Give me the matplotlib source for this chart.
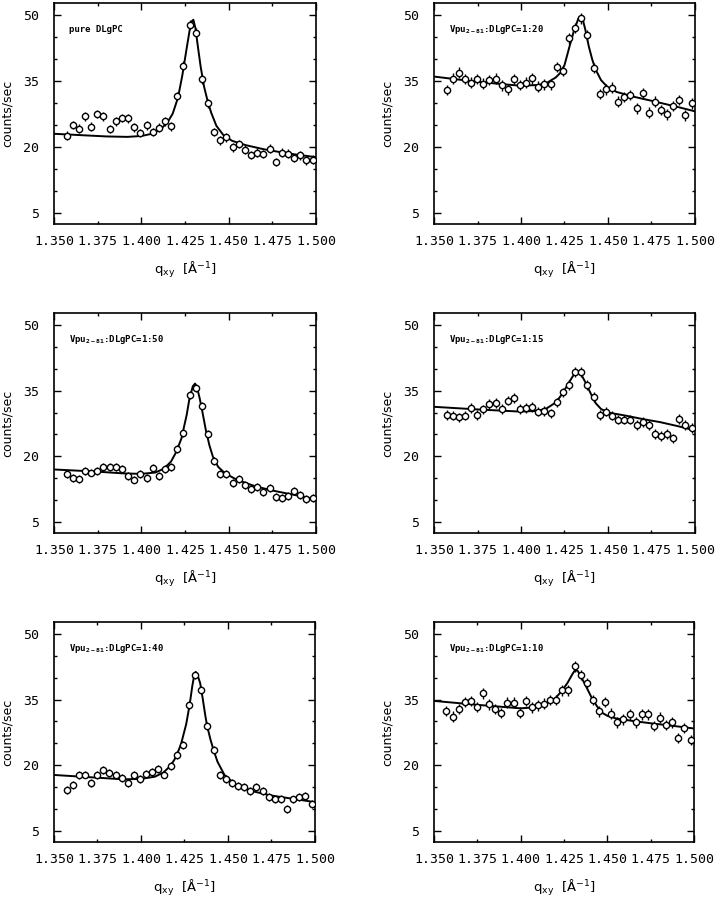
import matplotlib
matplotlib.use('Agg')
import matplotlib.pyplot as plt
from matplotlib.ticker import MultipleLocator, FormatStrFormatter

# ---------------- data ----------------
q = [1.3572, 1.3607, 1.3642, 1.3678, 1.3713, 1.3748, 1.3783, 1.3818, 1.3854, 1.3889,
     1.3924, 1.3959, 1.3995, 1.4030, 1.4065, 1.4100, 1.4135, 1.4171, 1.4206, 1.4241,
     1.4276, 1.4311, 1.4347, 1.4382, 1.4417, 1.4452, 1.4487, 1.4523, 1.4558, 1.4593,
     1.4628, 1.4664, 1.4699, 1.4734, 1.4769, 1.4804, 1.4840, 1.4875, 1.4910, 1.4945,
     1.4981]

panel_labels = ["pure DLgPC",
                r"Vpu$_{\mathregular{2-81}}$:DLgPC=1:20",
                r"Vpu$_{\mathregular{2-81}}$:DLgPC=1:50",
                r"Vpu$_{\mathregular{2-81}}$:DLgPC=1:15",
                r"Vpu$_{\mathregular{2-81}}$:DLgPC=1:40",
                r"Vpu$_{\mathregular{2-81}}$:DLgPC=1:10"]

y1 = [22.6, 25.0, 24.2, 27.0, 24.6, 27.5, 27.0, 24.1, 25.8, 26.6,
      26.5, 24.5, 23.2, 24.9, 23.4, 24.4, 25.8, 24.7, 31.6, 38.5,
      47.8, 46.0, 35.4, 29.9, 23.4, 21.5, 22.2, 19.9, 20.7, 19.4,
      18.2, 18.7, 18.4, 19.6, 16.6, 18.7, 18.5, 17.5, 18.1, 17.0, 17.1]
y2 = [32.9, 35.5, 36.9, 35.4, 34.6, 35.4, 34.4, 35.2, 35.5, 34.0,
      33.1, 35.4, 34.1, 34.6, 35.6, 33.7, 34.2, 34.2, 38.2, 37.3,
      44.7, 47.0, 49.2, 45.4, 37.9, 32.0, 33.1, 33.5, 30.3, 31.4,
      31.8, 28.8, 32.2, 27.8, 30.3, 28.4, 27.4, 29.3, 30.7, 27.2, 29.9]
y3 = [16.0, 15.1, 14.8, 16.6, 16.3, 16.7, 17.5, 17.6, 17.6, 17.2,
      15.6, 14.7, 15.9, 15.0, 17.4, 15.5, 17.2, 17.5, 21.6, 25.3,
      33.9, 35.6, 31.4, 25.0, 18.9, 16.0, 16.0, 14.0, 14.8, 13.5,
      12.5, 12.9, 11.8, 12.7, 10.8, 10.4, 11.0, 12.1, 11.2, 10.2, 10.4]
y4 = [29.4, 29.3, 28.9, 29.3, 31.0, 29.5, 30.7, 31.9, 32.1, 30.8,
      32.7, 33.3, 30.8, 31.0, 31.2, 30.2, 30.4, 29.8, 32.3, 34.6,
      36.3, 39.2, 39.2, 36.3, 33.5, 29.4, 30.2, 29.3, 28.4, 28.4,
      28.4, 27.2, 27.9, 27.2, 25.1, 24.7, 25.1, 24.1, 28.5, 27.2, 26.5]
y5 = [14.3, 15.6, 17.7, 17.9, 16.0, 17.7, 19.0, 18.3, 17.7, 17.1,
      16.0, 17.8, 16.9, 18.1, 18.4, 19.2, 17.9, 19.8, 22.4, 24.7,
      33.8, 40.6, 37.2, 28.9, 23.5, 17.7, 16.8, 16.0, 15.3, 15.0,
      14.1, 15.0, 14.1, 12.8, 12.2, 12.4, 10.1, 12.2, 12.8, 12.9, 11.1]
y6 = [32.4, 31.1, 32.8, 34.5, 34.7, 33.3, 36.4, 33.9, 32.8, 31.9,
      34.3, 34.3, 32.0, 34.7, 33.2, 33.7, 34.1, 34.9, 34.9, 37.1,
      37.1, 42.6, 40.6, 38.8, 34.9, 32.3, 34.5, 31.8, 29.8, 30.5,
      31.6, 29.8, 31.6, 31.6, 29.0, 30.9, 29.2, 29.8, 26.2, 28.5, 25.8]

errors = [1.0, 1.2, 0.9, 1.1, 0.9, 1.2]

fit_x1 = [1.350, 1.365, 1.380, 1.392, 1.400, 1.406, 1.411, 1.415, 1.418, 1.421,
          1.4235, 1.426, 1.428, 1.429, 1.4298, 1.431, 1.4325, 1.434, 1.436, 1.438,
          1.440, 1.443, 1.447, 1.452, 1.460, 1.470, 1.480, 1.490, 1.500]
fit_y1 = [23.0, 22.7, 22.4, 22.3, 22.5, 23.0, 24.0, 25.6, 27.6, 31.2,
          36.3, 42.5, 47.3, 48.6, 48.9, 47.0, 42.5, 38.2, 33.6, 30.4,
          27.8, 24.8, 22.7, 21.4, 20.4, 19.5, 18.8, 18.2, 17.7]
fit_x2 = [1.350, 1.375, 1.400, 1.410, 1.415, 1.420, 1.4225, 1.425, 1.428, 1.4305,
          1.433, 1.434, 1.4355, 1.437, 1.439, 1.441, 1.443, 1.446, 1.450, 1.455,
          1.465, 1.475, 1.490, 1.500]
fit_y2 = [36.0, 34.8, 33.9, 34.1, 34.6, 35.8, 36.8, 38.6, 43.0, 46.5,
          49.2, 49.6, 49.0, 46.6, 42.8, 39.8, 37.5, 35.2, 33.5, 32.5,
          31.4, 30.5, 29.1, 28.1]
fit_x3 = [1.350, 1.375, 1.390, 1.400, 1.408, 1.413, 1.417, 1.420, 1.423, 1.426,
          1.4275, 1.4295, 1.4308, 1.432, 1.4335, 1.435, 1.437, 1.439, 1.441, 1.444,
          1.448, 1.455, 1.465, 1.475, 1.490, 1.500]
fit_y3 = [17.0, 16.5, 16.1, 16.0, 16.3, 17.2, 18.8, 21.0, 24.1, 29.5,
          33.0, 36.0, 36.6, 35.6, 33.1, 30.1, 25.9, 22.5, 19.9, 17.6,
          16.1, 14.6, 13.2, 12.2, 11.0, 10.2]
fit_x4 = [1.350, 1.375, 1.400, 1.410, 1.415, 1.420, 1.424, 1.427, 1.430, 1.432,
          1.4335, 1.435, 1.437, 1.440, 1.443, 1.446, 1.450, 1.460, 1.470, 1.480,
          1.490, 1.500]
fit_y4 = [31.3, 30.7, 30.2, 30.4, 31.0, 32.3, 34.4, 36.5, 38.4, 39.3,
          39.2, 38.4, 36.9, 34.4, 32.1, 30.8, 30.0, 29.3, 28.5, 27.8,
          26.9, 25.9]
fit_x5 = [1.350, 1.370, 1.390, 1.400, 1.408, 1.413, 1.417, 1.420, 1.423, 1.426,
          1.428, 1.4295, 1.4305, 1.4315, 1.4325, 1.434, 1.4355, 1.437, 1.438, 1.440,
          1.4417, 1.444, 1.448, 1.455, 1.465, 1.475, 1.490, 1.500]
fit_y5 = [17.8, 17.3, 16.8, 16.9, 17.4, 18.4, 19.9, 21.8, 24.8, 29.4,
          33.9, 38.1, 40.3, 41.3, 40.6, 38.8, 35.2, 31.3, 29.0, 25.8,
          23.5, 20.8, 17.8, 15.4, 14.0, 13.1, 12.2, 11.6]
fit_x6 = [1.350, 1.375, 1.400, 1.410, 1.415, 1.420, 1.424, 1.427, 1.430, 1.4315,
          1.433, 1.435, 1.438, 1.441, 1.444, 1.447, 1.450, 1.455, 1.465, 1.475,
          1.490, 1.500]
fit_y6 = [34.7, 33.8, 33.0, 33.3, 34.1, 35.3, 37.1, 38.8, 40.9, 41.8,
          41.5, 40.1, 37.8, 35.4, 33.5, 32.0, 31.3, 30.7, 30.1, 29.6,
          28.9, 28.4]

ys = [y1, y2, y3, y4, y5, y6]
fits = [(fit_x1, fit_y1), (fit_x2, fit_y2), (fit_x3, fit_y3),
        (fit_x4, fit_y4), (fit_x5, fit_y5), (fit_x6, fit_y6)]

# ---------------- layout ----------------
positions = [(0.0755, 0.7508, 0.3664, 0.2458),
             (0.6070, 0.7508, 0.3650, 0.2458),
             (0.0755, 0.4071, 0.3664, 0.2447),
             (0.6070, 0.4071, 0.3650, 0.2447),
             (0.0755, 0.0634, 0.3650, 0.2447),
             (0.6070, 0.0634, 0.3636, 0.2447)]

tick_font = dict(family='DejaVu Sans Mono', size=9.5)

fig = plt.figure(figsize=(7.15, 8.99), dpi=100)
for i in range(6):
    ax = fig.add_axes(positions[i])
    fx, fy = fits[i]
    ax.plot(fx, fy, color='black', lw=1.4, zorder=2)
    ax.errorbar(q, ys[i], yerr=errors[i], fmt='o', ms=4.5, mfc='white',
                mec='black', mew=1.0, ecolor='black', elinewidth=1.0,
                capsize=0, zorder=3)
    ax.set_xlim(1.35, 1.5)
    ax.set_ylim(2.5, 52.7)
    ax.xaxis.set_major_locator(MultipleLocator(0.05))
    ax.xaxis.set_minor_locator(MultipleLocator(0.025))
    ax.xaxis.set_major_formatter(FormatStrFormatter('%.3f'))
    ax.xaxis.set_minor_formatter(FormatStrFormatter('%.3f'))
    ax.set_yticks([5, 20, 35, 50])
    ax.yaxis.set_minor_locator(MultipleLocator(5))
    ax.tick_params(which='both', direction='in', top=True, right=True,
                   width=1.0, color='black')
    ax.tick_params(which='major', length=5)
    ax.tick_params(which='minor', length=2.5)
    ax.tick_params(axis='x', which='both', pad=8)
    ax.tick_params(axis='y', which='both', pad=11)
    for lab in ax.get_xticklabels(which='both') + ax.get_yticklabels():
        lab.set_fontfamily(tick_font['family'])
        lab.set_fontsize(tick_font['size'])
    for sp in ax.spines.values():
        sp.set_linewidth(1.2)
    ax.set_xlabel(r"q$_{\mathregular{xy}}$  [Å$^{\mathregular{-1}}$]",
                  fontsize=9.5, family='DejaVu Sans')
    ax.xaxis.set_label_coords(0.5, -0.165)
    ax.set_ylabel("counts/sec", fontsize=9, family='DejaVu Sans')
    ax.yaxis.set_label_coords(-0.155, 0.5)
    ax.text(0.057, 0.88, panel_labels[i], transform=ax.transAxes,
            fontsize=6.5, family='DejaVu Sans Mono', fontweight='bold',
            va='center', ha='left')

fig.savefig('out.png', dpi=100)
